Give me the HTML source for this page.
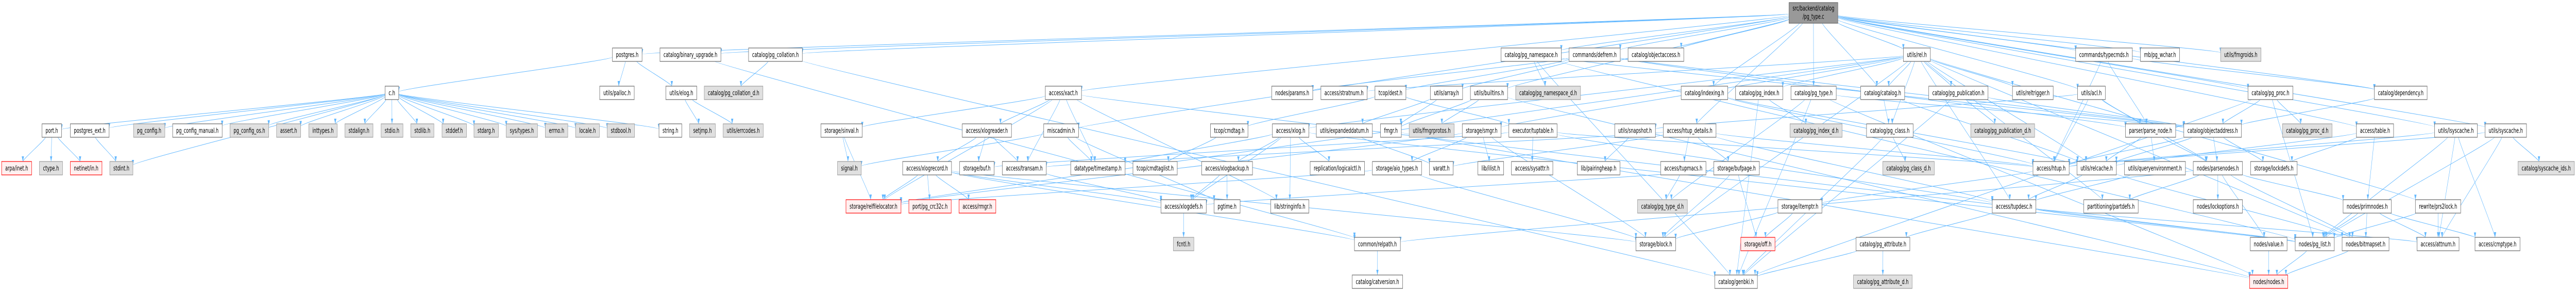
<!DOCTYPE html>
<html><head><meta charset="utf-8">
<style>
html,body{margin:0;padding:0;background:#fff;width:100%;height:100%;overflow:hidden;}
svg{display:block;width:100vw;height:100vh;overflow:hidden;}
text{font-family:"DejaVu Sans","Liberation Sans",sans-serif;font-size:13px;fill:#000;text-anchor:middle;}
.w{fill:#fff;stroke:#666;stroke-width:1.2;}
.g{fill:#e0e0e0;stroke:#999;stroke-width:1.2;}
.r{fill:#fff0f0;stroke:#f00;stroke-width:1.2;}
.t{fill:#999;stroke:#666;stroke-width:1.2;}
</style></head><body>
<svg id="g" viewBox="0 0 7908 564" preserveAspectRatio="none" xmlns="http://www.w3.org/2000/svg">
<defs><marker id="a" markerWidth="11" markerHeight="8" refX="10" refY="4" orient="auto" markerUnits="userSpaceOnUse"><path d="M0,0.5 L10,4 L0,7.5 z" fill="#63b8ff"/></marker></defs>
<g id="edges" fill="none" stroke="#63b8ff" stroke-width="1"></g>
<g id="nodes">
<rect class="t" x="5492" y="5" width="150" height="40"/>
<text x="5567" y="20.5" textLength="128" lengthAdjust="spacingAndGlyphs">src/backend/catalog</text>
<text x="5567" y="36.5" textLength="66" lengthAdjust="spacingAndGlyphs">/pg_type.c</text>
<rect class="w" x="1880" y="93" width="91" height="26"/><text x="1925.5" y="110.5" textLength="69" lengthAdjust="spacingAndGlyphs">postgres.h</text>
<rect class="w" x="2026" y="93" width="187" height="26"/><text x="2119.5" y="110.5" textLength="165" lengthAdjust="spacingAndGlyphs">catalog/binary_upgrade.h</text>
<rect class="w" x="2298" y="93" width="165" height="26"/><text x="2380.5" y="110.5" textLength="143" lengthAdjust="spacingAndGlyphs">catalog/pg_collation.h</text>
<rect class="w" x="4608" y="93" width="185" height="26"/><text x="4700.5" y="110.5" textLength="163" lengthAdjust="spacingAndGlyphs">catalog/pg_namespace.h</text>
<rect class="w" x="4817" y="93" width="157" height="26"/><text x="4895.5" y="110.5" textLength="135" lengthAdjust="spacingAndGlyphs">commands/defrem.h</text>
<rect class="w" x="4998" y="93" width="171" height="26"/><text x="5083.5" y="110.5" textLength="149" lengthAdjust="spacingAndGlyphs">catalog/objectaccess.h</text>
<rect class="w" x="5843" y="93" width="83" height="26"/><text x="5884.5" y="110.5" textLength="61" lengthAdjust="spacingAndGlyphs">utils/rel.h</text>
<rect class="w" x="6372" y="93" width="174" height="26"/><text x="6459" y="110.5" textLength="152" lengthAdjust="spacingAndGlyphs">commands/typecmds.h</text>
<rect class="w" x="6571" y="93" width="120" height="26"/><text x="6631" y="110.5" textLength="98" lengthAdjust="spacingAndGlyphs">mb/pg_wchar.h</text>
<rect class="g" x="6817" y="93" width="124" height="26"/><text x="6879" y="110.5" textLength="102" lengthAdjust="spacingAndGlyphs">utils/fmgroids.h</text>
<rect class="w" x="1182" y="167" width="42" height="26"/><text x="1203" y="184.5" textLength="20" lengthAdjust="spacingAndGlyphs">c.h</text>
<rect class="w" x="1841" y="167" width="106" height="26"/><text x="1894" y="184.5" textLength="84" lengthAdjust="spacingAndGlyphs">utils/palloc.h</text>
<rect class="w" x="2044" y="167" width="95" height="26"/><text x="2091.5" y="184.5" textLength="73" lengthAdjust="spacingAndGlyphs">utils/elog.h</text>
<rect class="g" x="2162" y="167" width="180" height="26"/><text x="2252" y="184.5" textLength="158" lengthAdjust="spacingAndGlyphs">catalog/pg_collation_d.h</text>
<rect class="w" x="3209" y="167" width="111" height="26"/><text x="3264.5" y="184.5" textLength="89" lengthAdjust="spacingAndGlyphs">access/xact.h</text>
<rect class="w" x="3904" y="167" width="126" height="26"/><text x="3967" y="184.5" textLength="104" lengthAdjust="spacingAndGlyphs">nodes/params.h</text>
<rect class="w" x="4055" y="167" width="142" height="26"/><text x="4126" y="184.5" textLength="120" lengthAdjust="spacingAndGlyphs">access/stratnum.h</text>
<rect class="w" x="4221" y="167" width="95" height="26"/><text x="4268.5" y="184.5" textLength="73" lengthAdjust="spacingAndGlyphs">tcop/dest.h</text>
<rect class="w" x="4391" y="167" width="99" height="26"/><text x="4440.5" y="184.5" textLength="77" lengthAdjust="spacingAndGlyphs">utils/array.h</text>
<rect class="w" x="4514" y="167" width="114" height="26"/><text x="4571" y="184.5" textLength="92" lengthAdjust="spacingAndGlyphs">utils/builtins.h</text>
<rect class="g" x="4653" y="167" width="199" height="26"/><text x="4752.5" y="184.5" textLength="177" lengthAdjust="spacingAndGlyphs">catalog/pg_namespace_d.h</text>
<rect class="w" x="5161" y="167" width="143" height="26"/><text x="5232.5" y="184.5" textLength="121" lengthAdjust="spacingAndGlyphs">catalog/indexing.h</text>
<rect class="w" x="5328" y="167" width="145" height="26"/><text x="5400.5" y="184.5" textLength="123" lengthAdjust="spacingAndGlyphs">catalog/pg_index.h</text>
<rect class="w" x="5498" y="167" width="139" height="26"/><text x="5567.5" y="184.5" textLength="117" lengthAdjust="spacingAndGlyphs">catalog/pg_type.h</text>
<rect class="w" x="5712" y="167" width="135" height="26"/><text x="5779.5" y="184.5" textLength="113" lengthAdjust="spacingAndGlyphs">catalog/catalog.h</text>
<rect class="w" x="5921" y="167" width="182" height="26"/><text x="6012" y="184.5" textLength="160" lengthAdjust="spacingAndGlyphs">catalog/pg_publication.h</text>
<rect class="w" x="6178" y="167" width="125" height="26"/><text x="6240.5" y="184.5" textLength="103" lengthAdjust="spacingAndGlyphs">utils/reltrigger.h</text>
<rect class="w" x="6378" y="167" width="85" height="26"/><text x="6420.5" y="184.5" textLength="63" lengthAdjust="spacingAndGlyphs">utils/acl.h</text>
<rect class="w" x="6901" y="167" width="138" height="26"/><text x="6970" y="184.5" textLength="116" lengthAdjust="spacingAndGlyphs">catalog/pg_proc.h</text>
<rect class="w" x="7289" y="167" width="162" height="26"/><text x="7370" y="184.5" textLength="140" lengthAdjust="spacingAndGlyphs">catalog/dependency.h</text>
<rect class="w" x="129" y="240" width="60" height="26"/><text x="159" y="257.5" textLength="38" lengthAdjust="spacingAndGlyphs">port.h</text>
<rect class="w" x="216" y="240" width="119" height="26"/><text x="275.5" y="257.5" textLength="97" lengthAdjust="spacingAndGlyphs">postgres_ext.h</text>
<rect class="g" x="410" y="240" width="96" height="26"/><text x="458" y="257.5" textLength="74" lengthAdjust="spacingAndGlyphs">pg_config.h</text>
<rect class="w" x="530" y="240" width="152" height="26"/><text x="606" y="257.5" textLength="130" lengthAdjust="spacingAndGlyphs">pg_config_manual.h</text>
<rect class="g" x="706" y="240" width="119" height="26"/><text x="765.5" y="257.5" textLength="97" lengthAdjust="spacingAndGlyphs">pg_config_os.h</text>
<rect class="g" x="849" y="240" width="74" height="26"/><text x="886" y="257.5" textLength="52" lengthAdjust="spacingAndGlyphs">assert.h</text>
<rect class="g" x="948" y="240" width="87" height="26"/><text x="991.5" y="257.5" textLength="65" lengthAdjust="spacingAndGlyphs">inttypes.h</text>
<rect class="g" x="1059" y="240" width="86" height="26"/><text x="1102" y="257.5" textLength="64" lengthAdjust="spacingAndGlyphs">stdalign.h</text>
<rect class="g" x="1170" y="240" width="67" height="26"/><text x="1203.5" y="257.5" textLength="45" lengthAdjust="spacingAndGlyphs">stdio.h</text>
<rect class="g" x="1261" y="240" width="71" height="26"/><text x="1296.5" y="257.5" textLength="49" lengthAdjust="spacingAndGlyphs">stdlib.h</text>
<rect class="g" x="1357" y="240" width="75" height="26"/><text x="1394.5" y="257.5" textLength="53" lengthAdjust="spacingAndGlyphs">stddef.h</text>
<rect class="g" x="1455" y="240" width="75" height="26"/><text x="1492.5" y="257.5" textLength="53" lengthAdjust="spacingAndGlyphs">stdarg.h</text>
<rect class="g" x="1554" y="240" width="96" height="26"/><text x="1602" y="257.5" textLength="74" lengthAdjust="spacingAndGlyphs">sys/types.h</text>
<rect class="g" x="1674" y="240" width="69" height="26"/><text x="1708.5" y="257.5" textLength="47" lengthAdjust="spacingAndGlyphs">errno.h</text>
<rect class="g" x="1767" y="240" width="73" height="26"/><text x="1803.5" y="257.5" textLength="51" lengthAdjust="spacingAndGlyphs">locale.h</text>
<rect class="g" x="1864" y="240" width="84" height="26"/><text x="1906" y="257.5" textLength="62" lengthAdjust="spacingAndGlyphs">stdbool.h</text>
<rect class="w" x="2023" y="240" width="70" height="26"/><text x="2058" y="257.5" textLength="48" lengthAdjust="spacingAndGlyphs">string.h</text>
<rect class="g" x="2117" y="240" width="79" height="26"/><text x="2156.5" y="257.5" textLength="57" lengthAdjust="spacingAndGlyphs">setjmp.h</text>
<rect class="g" x="2220" y="240" width="123" height="26"/><text x="2281.5" y="257.5" textLength="101" lengthAdjust="spacingAndGlyphs">utils/errcodes.h</text>
<rect class="w" x="2520" y="240" width="127" height="26"/><text x="2583.5" y="257.5" textLength="105" lengthAdjust="spacingAndGlyphs">storage/sinval.h</text>
<rect class="w" x="2954" y="240" width="151" height="26"/><text x="3029.5" y="257.5" textLength="129" lengthAdjust="spacingAndGlyphs">access/xlogreader.h</text>
<rect class="w" x="3204" y="240" width="107" height="26"/><text x="3257.5" y="257.5" textLength="85" lengthAdjust="spacingAndGlyphs">miscadmin.h</text>
<rect class="w" x="3716" y="240" width="115" height="26"/><text x="3773.5" y="257.5" textLength="93" lengthAdjust="spacingAndGlyphs">tcop/cmdtag.h</text>
<rect class="w" x="3906" y="240" width="112" height="26"/><text x="3962" y="257.5" textLength="90" lengthAdjust="spacingAndGlyphs">access/xlog.h</text>
<rect class="w" x="4041" y="240" width="172" height="26"/><text x="4127" y="257.5" textLength="150" lengthAdjust="spacingAndGlyphs">utils/expandeddatum.h</text>
<rect class="w" x="4238" y="240" width="64" height="26"/><text x="4270" y="257.5" textLength="42" lengthAdjust="spacingAndGlyphs">fmgr.h</text>
<rect class="g" x="4326" y="240" width="138" height="26"/><text x="4395" y="257.5" textLength="116" lengthAdjust="spacingAndGlyphs">utils/fmgrprotos.h</text>
<rect class="w" x="4489" y="240" width="119" height="26"/><text x="4548.5" y="257.5" textLength="97" lengthAdjust="spacingAndGlyphs">storage/smgr.h</text>
<rect class="w" x="4632" y="240" width="148" height="26"/><text x="4706" y="257.5" textLength="126" lengthAdjust="spacingAndGlyphs">executor/tuptable.h</text>
<rect class="w" x="4957" y="240" width="125" height="26"/><text x="5019.5" y="257.5" textLength="103" lengthAdjust="spacingAndGlyphs">utils/snapshot.h</text>
<rect class="w" x="5106" y="240" width="162" height="26"/><text x="5187" y="257.5" textLength="140" lengthAdjust="spacingAndGlyphs">access/htup_details.h</text>
<rect class="g" x="5495" y="240" width="160" height="26"/><text x="5575" y="257.5" textLength="138" lengthAdjust="spacingAndGlyphs">catalog/pg_index_d.h</text>
<rect class="w" x="5730" y="240" width="143" height="26"/><text x="5801.5" y="257.5" textLength="121" lengthAdjust="spacingAndGlyphs">catalog/pg_class.h</text>
<rect class="g" x="6050" y="240" width="196" height="26"/><text x="6148" y="257.5" textLength="174" lengthAdjust="spacingAndGlyphs">catalog/pg_publication_d.h</text>
<rect class="w" x="6525" y="240" width="154" height="26"/><text x="6602" y="257.5" textLength="132" lengthAdjust="spacingAndGlyphs">parser/parse_node.h</text>
<rect class="w" x="6704" y="240" width="177" height="26"/><text x="6792.5" y="257.5" textLength="155" lengthAdjust="spacingAndGlyphs">catalog/objectaddress.h</text>
<rect class="g" x="7007" y="240" width="152" height="26"/><text x="7083" y="257.5" textLength="130" lengthAdjust="spacingAndGlyphs">catalog/pg_proc_d.h</text>
<rect class="w" x="7234" y="240" width="114" height="26"/><text x="7291" y="257.5" textLength="92" lengthAdjust="spacingAndGlyphs">access/table.h</text>
<rect class="w" x="7474" y="240" width="131" height="26"/><text x="7539.5" y="257.5" textLength="109" lengthAdjust="spacingAndGlyphs">utils/lsyscache.h</text>
<rect class="w" x="7629" y="240" width="127" height="26"/><text x="7692.5" y="257.5" textLength="105" lengthAdjust="spacingAndGlyphs">utils/syscache.h</text>
<rect class="r" x="5" y="313" width="92" height="26"/><text x="51" y="330.5" textLength="70" lengthAdjust="spacingAndGlyphs">arpa/inet.h</text>
<rect class="g" x="121" y="313" width="71" height="26"/><text x="156.5" y="330.5" textLength="49" lengthAdjust="spacingAndGlyphs">ctype.h</text>
<rect class="r" x="216" y="313" width="97" height="26"/><text x="264.5" y="330.5" textLength="75" lengthAdjust="spacingAndGlyphs">netinet/in.h</text>
<rect class="g" x="337" y="313" width="71" height="26"/><text x="372.5" y="330.5" textLength="49" lengthAdjust="spacingAndGlyphs">stdint.h</text>
<rect class="g" x="2571" y="313" width="73" height="26"/><text x="2607.5" y="330.5" textLength="51" lengthAdjust="spacingAndGlyphs">signal.h</text>
<rect class="w" x="2771" y="313" width="150" height="26"/><text x="2846" y="330.5" textLength="128" lengthAdjust="spacingAndGlyphs">access/xlogrecord.h</text>
<rect class="w" x="2946" y="313" width="106" height="26"/><text x="2999" y="330.5" textLength="84" lengthAdjust="spacingAndGlyphs">storage/buf.h</text>
<rect class="w" x="3077" y="313" width="135" height="26"/><text x="3144.5" y="330.5" textLength="113" lengthAdjust="spacingAndGlyphs">access/transam.h</text>
<rect class="w" x="3287" y="313" width="167" height="26"/><text x="3370.5" y="330.5" textLength="145" lengthAdjust="spacingAndGlyphs">datatype/timestamp.h</text>
<rect class="w" x="3478" y="313" width="136" height="26"/><text x="3546" y="330.5" textLength="114" lengthAdjust="spacingAndGlyphs">tcop/cmdtaglist.h</text>
<rect class="w" x="3689" y="313" width="156" height="26"/><text x="3767" y="330.5" textLength="134" lengthAdjust="spacingAndGlyphs">access/xlogbackup.h</text>
<rect class="w" x="4022" y="313" width="167" height="26"/><text x="4105.5" y="330.5" textLength="145" lengthAdjust="spacingAndGlyphs">replication/logicalctl.h</text>
<rect class="w" x="4213" y="313" width="151" height="26"/><text x="4288.5" y="330.5" textLength="129" lengthAdjust="spacingAndGlyphs">storage/aio_types.h</text>
<rect class="w" x="4388" y="313" width="73" height="26"/><text x="4424.5" y="330.5" textLength="51" lengthAdjust="spacingAndGlyphs">varatt.h</text>
<rect class="w" x="4537" y="313" width="79" height="26"/><text x="4576.5" y="330.5" textLength="57" lengthAdjust="spacingAndGlyphs">lib/ilist.h</text>
<rect class="w" x="4640" y="313" width="127" height="26"/><text x="4703.5" y="330.5" textLength="105" lengthAdjust="spacingAndGlyphs">access/sysattr.h</text>
<rect class="w" x="4842" y="313" width="131" height="26"/><text x="4907.5" y="330.5" textLength="109" lengthAdjust="spacingAndGlyphs">lib/pairingheap.h</text>
<rect class="w" x="5098" y="313" width="139" height="26"/><text x="5167.5" y="330.5" textLength="117" lengthAdjust="spacingAndGlyphs">access/tupmacs.h</text>
<rect class="w" x="5261" y="313" width="140" height="26"/><text x="5331" y="330.5" textLength="118" lengthAdjust="spacingAndGlyphs">storage/bufpage.h</text>
<rect class="g" x="5780" y="313" width="158" height="26"/><text x="5859" y="330.5" textLength="136" lengthAdjust="spacingAndGlyphs">catalog/pg_class_d.h</text>
<rect class="w" x="6241" y="313" width="111" height="26"/><text x="6296.5" y="330.5" textLength="89" lengthAdjust="spacingAndGlyphs">access/htup.h</text>
<rect class="w" x="6376" y="313" width="121" height="26"/><text x="6436.5" y="330.5" textLength="99" lengthAdjust="spacingAndGlyphs">utils/relcache.h</text>
<rect class="w" x="6522" y="313" width="187" height="26"/><text x="6615.5" y="330.5" textLength="165" lengthAdjust="spacingAndGlyphs">utils/queryenvironment.h</text>
<rect class="w" x="6733" y="313" width="151" height="26"/><text x="6808.5" y="330.5" textLength="129" lengthAdjust="spacingAndGlyphs">nodes/parsenodes.h</text>
<rect class="w" x="6909" y="313" width="143" height="26"/><text x="6980.5" y="330.5" textLength="121" lengthAdjust="spacingAndGlyphs">storage/lockdefs.h</text>
<rect class="g" x="7730" y="313" width="173" height="26"/><text x="7816.5" y="330.5" textLength="151" lengthAdjust="spacingAndGlyphs">catalog/syscache_ids.h</text>
<rect class="r" x="2597" y="387" width="169" height="26"/><text x="2681.5" y="404.5" textLength="147" lengthAdjust="spacingAndGlyphs">storage/relfilelocator.h</text>
<rect class="r" x="2790" y="387" width="130" height="26"/><text x="2855" y="404.5" textLength="108" lengthAdjust="spacingAndGlyphs">port/pg_crc32c.h</text>
<rect class="r" x="2944" y="387" width="113" height="26"/><text x="3000.5" y="404.5" textLength="91" lengthAdjust="spacingAndGlyphs">access/rmgr.h</text>
<rect class="w" x="3564" y="387" width="139" height="26"/><text x="3633.5" y="404.5" textLength="117" lengthAdjust="spacingAndGlyphs">access/xlogdefs.h</text>
<rect class="w" x="3727" y="387" width="80" height="26"/><text x="3767" y="404.5" textLength="58" lengthAdjust="spacingAndGlyphs">pgtime.h</text>
<rect class="w" x="3901" y="387" width="117" height="26"/><text x="3959.5" y="404.5" textLength="95" lengthAdjust="spacingAndGlyphs">lib/stringinfo.h</text>
<rect class="g" x="5027" y="387" width="153" height="26"/><text x="5103.5" y="404.5" textLength="131" lengthAdjust="spacingAndGlyphs">catalog/pg_type_d.h</text>
<rect class="w" x="5458" y="387" width="135" height="26"/><text x="5525.5" y="404.5" textLength="113" lengthAdjust="spacingAndGlyphs">storage/itemptr.h</text>
<rect class="w" x="6116" y="387" width="134" height="26"/><text x="6183" y="404.5" textLength="112" lengthAdjust="spacingAndGlyphs">access/tupdesc.h</text>
<rect class="w" x="6397" y="387" width="167" height="26"/><text x="6480.5" y="404.5" textLength="145" lengthAdjust="spacingAndGlyphs">partitioning/partdefs.h</text>
<rect class="w" x="6733" y="387" width="151" height="26"/><text x="6808.5" y="404.5" textLength="129" lengthAdjust="spacingAndGlyphs">nodes/lockoptions.h</text>
<rect class="w" x="7193" y="387" width="148" height="26"/><text x="7267" y="404.5" textLength="126" lengthAdjust="spacingAndGlyphs">nodes/primnodes.h</text>
<rect class="w" x="7415" y="387" width="139" height="26"/><text x="7484.5" y="404.5" textLength="117" lengthAdjust="spacingAndGlyphs">rewrite/prs2lock.h</text>
<rect class="g" x="3602" y="460" width="63" height="26"/><text x="3633.5" y="477.5" textLength="41" lengthAdjust="spacingAndGlyphs">fcntl.h</text>
<rect class="w" x="4158" y="460" width="141" height="26"/><text x="4228.5" y="477.5" textLength="119" lengthAdjust="spacingAndGlyphs">common/relpath.h</text>
<rect class="w" x="5022" y="460" width="122" height="26"/><text x="5083" y="477.5" textLength="100" lengthAdjust="spacingAndGlyphs">storage/block.h</text>
<rect class="r" x="5344" y="460" width="105" height="26"/><text x="5396.5" y="477.5" textLength="83" lengthAdjust="spacingAndGlyphs">storage/off.h</text>
<rect class="w" x="5698" y="460" width="165" height="26"/><text x="5780.5" y="477.5" textLength="143" lengthAdjust="spacingAndGlyphs">catalog/pg_attribute.h</text>
<rect class="w" x="6908" y="460" width="113" height="26"/><text x="6964.5" y="477.5" textLength="91" lengthAdjust="spacingAndGlyphs">nodes/value.h</text>
<rect class="w" x="7046" y="460" width="120" height="26"/><text x="7106" y="477.5" textLength="98" lengthAdjust="spacingAndGlyphs">nodes/pg_list.h</text>
<rect class="w" x="7190" y="460" width="144" height="26"/><text x="7262" y="477.5" textLength="122" lengthAdjust="spacingAndGlyphs">nodes/bitmapset.h</text>
<rect class="w" x="7420" y="460" width="129" height="26"/><text x="7484.5" y="477.5" textLength="107" lengthAdjust="spacingAndGlyphs">access/attnum.h</text>
<rect class="w" x="7598" y="460" width="138" height="26"/><text x="7667" y="477.5" textLength="116" lengthAdjust="spacingAndGlyphs">access/cmptype.h</text>
<rect class="w" x="4151" y="533" width="155" height="26"/><text x="4228.5" y="550.5" textLength="133" lengthAdjust="spacingAndGlyphs">catalog/catversion.h</text>
<rect class="w" x="5264" y="533" width="131" height="26"/><text x="5329.5" y="550.5" textLength="109" lengthAdjust="spacingAndGlyphs">catalog/genbki.h</text>
<rect class="g" x="5690" y="533" width="180" height="26"/><text x="5780" y="550.5" textLength="158" lengthAdjust="spacingAndGlyphs">catalog/pg_attribute_d.h</text>
<rect class="r" x="6906" y="533" width="117" height="26"/><text x="6964.5" y="550.5" textLength="95" lengthAdjust="spacingAndGlyphs">nodes/nodes.h</text>
</g>
</svg>
<script>
(function(){
var R=[5,93,167,240,313,387,460,533];
var N={
T:[5492,150,0],
postgres:[1880,91,1],binup:[2026,187,1],pgcoll:[2298,165,1],pgns:[4608,185,1],defrem:[4817,157,1],objacc:[4998,171,1],rel:[5843,83,1],typecmds:[6372,174,1],pgwchar:[6571,120,1],fmgroids:[6817,124,1],
ch:[1182,42,2],palloc:[1841,106,2],elog:[2044,95,2],pgcolld:[2162,180,2],xact:[3209,111,2],params:[3904,126,2],stratnum:[4055,142,2],dest:[4221,95,2],array:[4391,99,2],builtins:[4514,114,2],pgnsd:[4653,199,2],indexing:[5161,143,2],pgindex:[5328,145,2],pgtype:[5498,139,2],catalog:[5712,135,2],pgpub:[5921,182,2],reltrig:[6178,125,2],acl:[6378,85,2],pgproc:[6901,138,2],dep:[7289,162,2],
port:[129,60,3],pgext:[216,119,3],pgconfig:[410,96,3],pgcm:[530,152,3],pgcos:[706,119,3],assert:[849,74,3],inttypes:[948,87,3],stdalign:[1059,86,3],stdio:[1170,67,3],stdlib:[1261,71,3],stddef:[1357,75,3],stdarg:[1455,75,3],systypes:[1554,96,3],errno:[1674,69,3],locale:[1767,73,3],stdbool:[1864,84,3],string:[2023,70,3],setjmp:[2117,79,3],errcodes:[2220,123,3],sinval:[2520,127,3],xlogreader:[2954,151,3],misc:[3204,107,3],cmdtag:[3716,115,3],xlog:[3906,112,3],expd:[4041,172,3],fmgr:[4238,64,3],fmgrprotos:[4326,138,3],smgr:[4489,119,3],tuptable:[4632,148,3],snapshot:[4957,125,3],htupd:[5106,162,3],pgindexd:[5495,160,3],pgclass:[5730,143,3],pgpubd:[6050,196,3],parsenode:[6525,154,3],objaddr:[6704,177,3],pgprocd:[7007,152,3],table:[7234,114,3],lsys:[7474,131,3],sys:[7629,127,3],
arpa:[5,92,4],ctype:[121,71,4],netinet:[216,97,4],stdint:[337,71,4],signal:[2571,73,4],xlogrecord:[2771,150,4],buf:[2946,106,4],transam:[3077,135,4],timestamp:[3287,167,4],cmdtaglist:[3478,136,4],xlogbackup:[3689,156,4],logicalctl:[4022,167,4],aio:[4213,151,4],varatt:[4388,73,4],ilist:[4537,79,4],sysattr:[4640,127,4],pairing:[4842,131,4],tupmacs:[5098,139,4],bufpage:[5261,140,4],pgclassd:[5780,158,4],htup:[6241,111,4],relcache:[6376,121,4],qenv:[6522,187,4],parsenodes:[6733,151,4],lockdefs:[6909,143,4],syscids:[7730,173,4],
relfl:[2597,169,5],crc:[2790,130,5],rmgr:[2944,113,5],xlogdefs:[3564,139,5],pgtime:[3727,80,5],stringinfo:[3901,117,5],pgtyped:[5027,153,5],itemptr:[5458,135,5],tupdesc:[6116,134,5],partdefs:[6397,167,5],lockopt:[6733,151,5],primnodes:[7193,148,5],prs2lock:[7415,139,5],
fcntl:[3602,63,6],relpath:[4158,141,6],block:[5022,122,6],off:[5344,105,6],pgattr:[5698,165,6],value:[6908,113,6],pglist:[7046,120,6],bitmapset:[7190,144,6],attnum:[7420,129,6],cmptype:[7598,138,6],
catversion:[4151,155,7],genbki:[5264,131,7],pgattrd:[5690,180,7],nodes:[6906,117,7]
};
var E=[
"T postgres htupd table xact binup catalog dep indexing objacc pgcoll pgns pgproc pgtype defrem typecmds pgwchar misc acl builtins fmgroids lsys rel sys",
"postgres ch palloc elog",
"ch port pgext pgconfig pgcm pgcos assert inttypes stdalign stdio stdlib stddef stdarg systypes errno locale stdbool string stdint",
"port arpa ctype netinet",
"pgext stdint",
"elog setjmp errcodes",
"binup relpath",
"pgcoll pgcolld genbki",
"sinval signal relfl",
"xact xlogreader transam relfl sinval timestamp stringinfo pglist",
"xlogreader xlogrecord buf transam",
"xlogrecord relfl crc rmgr xlogdefs block relpath",
"misc signal timestamp pgtime",
"transam xlogdefs",
"cmdtag cmdtaglist",
"xlog xlogbackup xlogdefs timestamp stringinfo pglist logicalctl",
"xlogbackup xlogdefs pgtime",
"xlogdefs fcntl",
"relpath catversion",
"dest tuptable cmdtag",
"array fmgr expd",
"builtins fmgr fmgrprotos nodes",
"smgr ilist aio block relfl",
"aio block relfl",
"pgns pgnsd genbki pglist objaddr",
"defrem objaddr params parsenode dest array",
"tuptable sysattr htup tupdesc buf",
"snapshot pairing",
"htupd htup transam tupdesc tupmacs bufpage varatt",
"tupmacs pgtyped",
"bufpage block off xlogdefs",
"itemptr block off",
"indexing htup relcache",
"pgindex pgindexd genbki",
"pgtype pgtyped genbki objaddr nodes",
"catalog pgclass relcache",
"pgclass pgclassd genbki",
"pgattr pgattrd genbki",
"rel tupdesc xlog catalog pgclass pgindex pgpub bitmapset partdefs prs2lock block relfl smgr relcache reltrig stratnum",
"pgpub pgpubd genbki objaddr",
"acl htup parsenodes parsenode snapshot",
"typecmds htup dep parsenode",
"pgproc pgprocd genbki objaddr pglist",
"dep objaddr",
"table primnodes lockdefs relcache",
"lsys attnum cmptype htup pglist",
"sys attnum htup syscids pglist",
"parsenode parsenodes qenv relcache",
"objaddr htup parsenodes lockdefs relcache",
"parsenodes bitmapset lockopt primnodes value relpath partdefs",
"primnodes attnum cmptype bitmapset pglist",
"prs2lock attnum pglist",
"value nodes","pglist nodes","bitmapset nodes",
"tupdesc attnum pgattr pglist",
"relcache tupdesc bitmapset",
"qenv tupdesc",
"htup itemptr",
"fmgr nodes",
"expd varatt"
];
function box(id){var n=N[id];var y=R[n[2]];var h=n[2]==0?40:26;return {x1:n[0],x2:n[0]+n[1],y1:y,y2:y+h,cx:n[0]+n[1]/2,cy:y+h/2};}
function clip(b,dx,dy){var hw=(b.x2-b.x1)/2,hh=(b.y2-b.y1)/2,t=1e9;
 if(dx)t=Math.min(t,hw/Math.abs(dx)); if(dy)t=Math.min(t,hh/Math.abs(dy));
 return [b.cx+dx*t,b.cy+dy*t];}
var g=document.getElementById('edges');var ns="http://www.w3.org/2000/svg";
E.forEach(function(line){var p=line.split(' ');var s=p[0];
 for(var i=1;i<p.length;i++){var t=p[i];if(!N[s]||!N[t])continue;
  var a=box(s),b=box(t);var dx=b.cx-a.cx,dy=b.cy-a.cy;
  var P=clip(a,dx,dy),Q=clip(b,-dx,-dy);
  var ddy=Q[1]-P[1];var k=Math.min(25,Math.abs(ddy)/3);
  var d="M"+P[0].toFixed(1)+","+P[1].toFixed(1)+" C"+P[0].toFixed(1)+","+(P[1]+k*0.3).toFixed(1)+" "+Q[0].toFixed(1)+","+(Q[1]-k*0.3).toFixed(1)+" "+Q[0].toFixed(1)+","+Q[1].toFixed(1);
  var el=document.createElementNS(ns,'path');el.setAttribute('d',d);el.setAttribute('marker-end','url(#a)');g.appendChild(el);}
});
})();
</script>
</body></html>
